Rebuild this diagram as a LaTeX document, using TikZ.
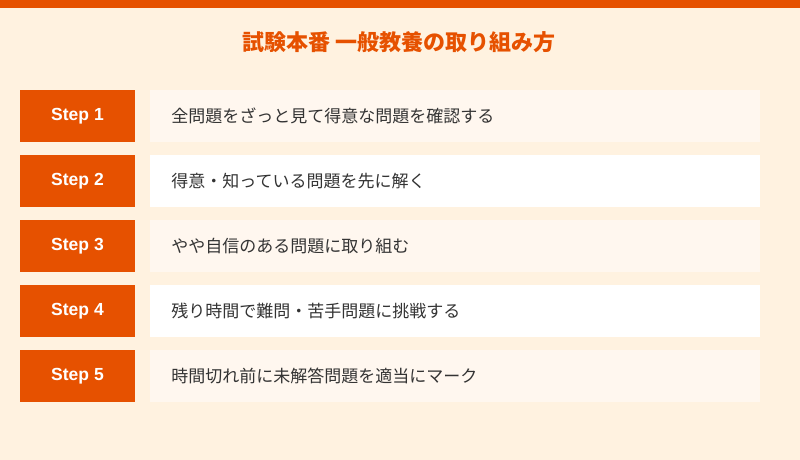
\documentclass[tikz,border=0pt]{standalone}
\usepackage{fontspec}
\setmainfont{Noto Sans CJK JP}
\newfontfamily\stepfont{Liberation Sans}
\usetikzlibrary{positioning}

\definecolor{accent}{HTML}{E65100}
\definecolor{cream}{HTML}{FFF2E0}
\definecolor{pale}{HTML}{FFF7EF}
\definecolor{ink}{HTML}{333333}

\tikzset{
  stepbox/.style={fill=accent, text=white, font=\stepfont\bfseries\fontsize{17.5}{20}\selectfont,
    minimum width=115pt, minimum height=52pt, inner sep=0pt},
  descbox/.style={text=ink, font=\fontsize{17}{20}\selectfont,
    text width=568pt, inner xsep=21pt, inner ysep=0pt, minimum height=52pt, align=left}
}

\begin{document}
\begin{tikzpicture}[x=1pt,y=-1pt]

		% Фон и верхняя полоса
		\fill[cream] (0,0) rectangle (800,460);
		\fill[accent] (0,0) rectangle (800,8);

		% Заголовок
		\node[text=accent, font=\bfseries\fontsize{22}{26}\selectfont] (title) at (399,42) {試験本番 一般教養の取り組み方};

		% Шаги
		\foreach \i/\txt/\col in {1/全問題をざっと見て得意な問題を確認する/pale,
				2/得意・知っている問題を先に解く/white,
				3/やや自信のある問題に取り組む/pale,
				4/残り時間で難問・苦手問題に挑戦する/white,
				5/時間切れ前に未解答問題を適当にマーク/pale} {
				\node[stepbox] (step\i) at (77.5,{116+65*(\i-1)}) {Step \i};
				\node[descbox, fill=\col, right=15pt of step\i] (desc\i) {\txt};
			}
	\end{tikzpicture}
\end{document}
